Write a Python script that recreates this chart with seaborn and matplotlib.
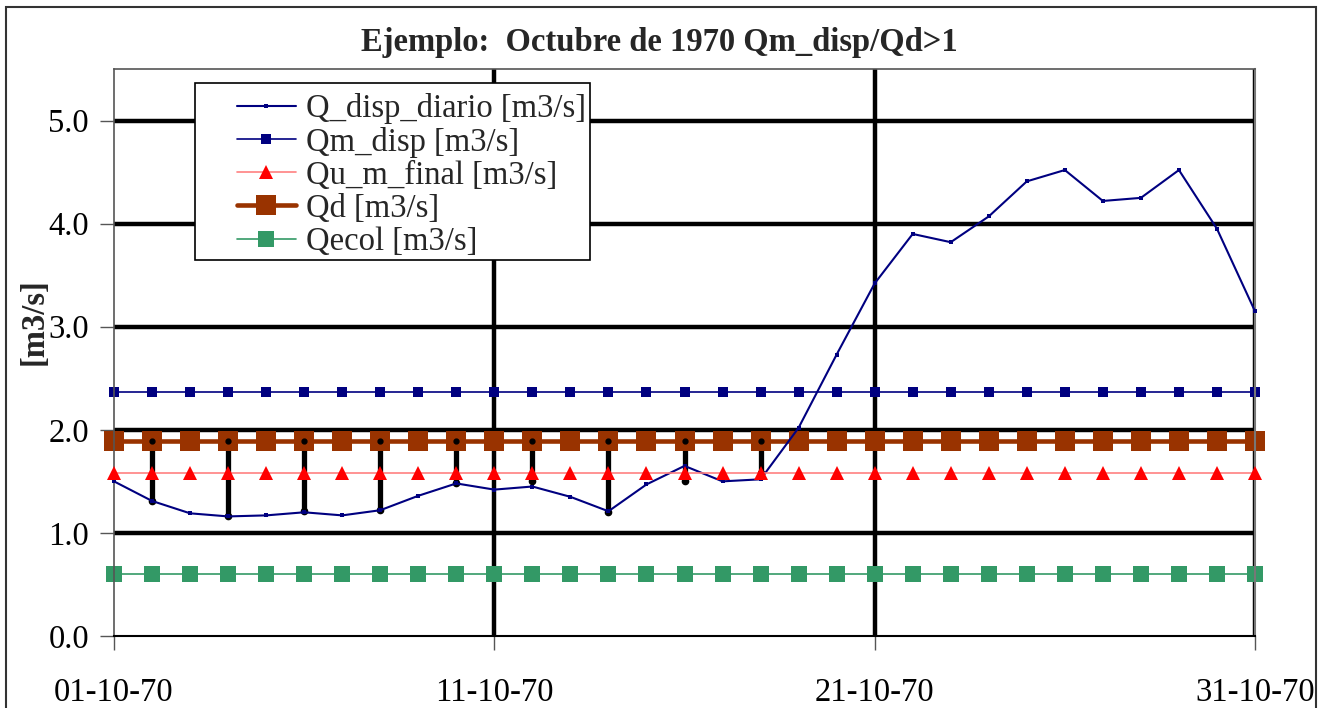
import numpy as np
import pandas as pd
import matplotlib
matplotlib.use("Agg")
import matplotlib.pyplot as plt
import seaborn as sns

days = list(range(1, 32))
q_disp_diario = [1.50, 1.31, 1.19, 1.16, 1.17, 1.20, 1.17, 1.22, 1.36, 1.48,
                 1.42, 1.45, 1.35, 1.21, 1.47, 1.65, 1.50, 1.52, 2.02, 2.73,
                 3.42, 3.90, 3.82, 4.07, 4.41, 4.52, 4.22, 4.25, 4.52, 3.95, 3.15]
qm_disp = [2.37] * 31
qu_m_final = [1.58] * 31
qd = [1.89] * 31
qecol = [0.60] * 31

# high-low (drop) lines on alternate days
drop_days = [2, 4, 6, 8, 10, 12, 14, 16, 18]
drop_low = [1.31, 1.16, 1.21, 1.22, 1.48, 1.50, 1.20, 1.50, 1.58]

xtick_days = [1, 11, 21, 31]
xtick_labels = ["01-10-70", "11-10-70", "21-10-70", "31-10-70"]
ytick_vals = [0, 1, 2, 3, 4, 5]

df = pd.DataFrame({"day": days, "Q_disp_diario": q_disp_diario, "Qm_disp": qm_disp,
                   "Qu_m_final": qu_m_final, "Qd": qd, "Qecol": qecol})

sns.set_theme(style="white")
plt.rcParams['font.family'] = ['Liberation Serif', 'DejaVu Serif']
FS = 23.5

fig = plt.figure(figsize=(13.26, 7.08), dpi=100)
ax = fig.add_axes([114/1326, 1-636/708, (1255-114)/1326, (636-69)/708])

# outer border
fig.patches.append(plt.Rectangle((6/1326, -0.01), (1316-6)/1326, 1-7/708+0.01,
                                 transform=fig.transFigure, fill=False,
                                 edgecolor="#333333", linewidth=1.5))

# grid lines
for yv in [1, 2, 3, 4, 5]:
    ax.axhline(yv, color="black", lw=3.2, zorder=1)
for xv in [11, 21, 31]:
    ax.axvline(xv, color="black", lw=3.2, zorder=1)

# drop lines
ax.vlines(drop_days, drop_low, [qd[0]] * len(drop_days), color="black", lw=3.8, zorder=2.2)

sns.lineplot(data=df, x="day", y="Qecol", ax=ax, color="#339966", lw=1.2,
             marker="s", markersize=11.5, markeredgewidth=0, label="Qecol [m3/s]",
             zorder=2, clip_on=False)
sns.lineplot(data=df, x="day", y="Qm_disp", ax=ax, color="#000080", lw=1.2,
             marker="s", markersize=7.5, markeredgewidth=0, label="Qm_disp [m3/s]",
             zorder=2, clip_on=False)
sns.lineplot(data=df, x="day", y="Qd", ax=ax, color="#993300", lw=3.3,
             marker="s", markersize=15, markeredgewidth=0, label="Qd [m3/s]",
             zorder=2.5, clip_on=False)
sns.lineplot(data=df, x="day", y="Q_disp_diario", ax=ax, color="#000080", lw=1.5,
             marker="s", markersize=3.5, markeredgewidth=0, label="Q_disp_diario [m3/s]",
             zorder=4, clip_on=False)
sns.lineplot(data=df, x="day", y="Qu_m_final", ax=ax, color="#ff8080", lw=1.2,
             marker="^", markersize=9.5, markerfacecolor="#ff0000", markeredgewidth=0,
             label="Qu_m_final [m3/s]", zorder=5, clip_on=False)

# dots at the ends of drop lines
ax.plot(drop_days, [qd[0]] * len(drop_days), ls="none", marker="o", color="black",
        markersize=3.5, zorder=6)
ax.plot(drop_days, drop_low, ls="none", marker="o", color="black",
        markersize=4.5, zorder=3.5)

ax.set_xlim(1, 31)
ax.set_ylim(0, 5.5)
ax.set_xticks(xtick_days)
ax.set_xticklabels(xtick_labels)
ax.set_yticks(ytick_vals)
ax.set_yticklabels([f"{v:.1f}" for v in ytick_vals])
ax.tick_params(axis="both", which="both", direction="out", length=10, width=1,
               color="#555555", labelsize=FS, labelcolor="black", bottom=True, left=True)
ax.tick_params(axis="x", pad=20)
ax.tick_params(axis="y", pad=8)
ax.set_xlabel("")
ax.set_ylabel("[m3/s]", fontsize=FS, fontweight="bold")
ax.yaxis.set_label_coords(-0.056, 0.555)

for side in ["left", "top"]:
    ax.spines[side].set_color("#555555")
    ax.spines[side].set_linewidth(1.2)
ax.spines["bottom"].set_color("black")
ax.spines["bottom"].set_linewidth(1.5)
ax.spines["right"].set_color("#777777")
ax.spines["right"].set_linewidth(1.5)

fig.text(0.4975, 1-42/708, "Ejemplo:  Octubre de 1970 Qm_disp/Qd>1", ha="center", va="center",
         fontsize=FS, fontweight="bold")

# legend frame (drawn separately to match the wide left margin of the original)
W, H = 1141, 567
frame = plt.Rectangle(((195-114)/W, (636-260)/H), (590-195)/W, (260-83)/H,
                      transform=ax.transAxes, facecolor="white", edgecolor="black",
                      lw=1.2, zorder=9, clip_on=False)
ax.add_patch(frame)

handles, labels = ax.get_legend_handles_labels()
order = ["Q_disp_diario [m3/s]", "Qm_disp [m3/s]", "Qu_m_final [m3/s]", "Qd [m3/s]", "Qecol [m3/s]"]
hmap = dict(zip(labels, handles))
leg = ax.legend([hmap[l] for l in order], order, loc="upper left",
                bbox_to_anchor=((237-114)/W, (636-93)/H), fontsize=FS,
                frameon=False, borderpad=0, labelspacing=0.08, handlelength=1.8,
                handletextpad=0.3, borderaxespad=0)
leg.set_zorder(10)

fig.savefig("out.png", dpi=100)
